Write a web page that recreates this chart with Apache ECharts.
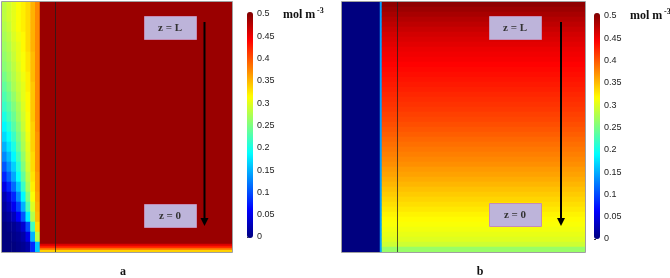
<!DOCTYPE html>
<html>
<head>
<meta charset="utf-8">
<script src="https://cdn.jsdelivr.net/npm/echarts@6/dist/echarts.min.js"></script>
<style>
  html, body { margin: 0; padding: 0; background: #fff; }
  #chart { width: 670px; height: 278px; }
</style>
</head>
<body>
<div id="chart"></div>
<script>
// concentration, mol m-3

// panel a, left strip: rows top -> bottom, columns left -> right
const fieldA = [
  [0.280, 0.290, 0.300, 0.310, 0.320, 0.330, 0.350, 0.370],
  [0.280, 0.290, 0.300, 0.310, 0.320, 0.330, 0.350, 0.370],
  [0.275, 0.285, 0.300, 0.310, 0.320, 0.330, 0.350, 0.370],
  [0.270, 0.280, 0.295, 0.305, 0.315, 0.330, 0.350, 0.370],
  [0.265, 0.275, 0.290, 0.300, 0.315, 0.330, 0.350, 0.370],
  [0.260, 0.270, 0.285, 0.300, 0.310, 0.325, 0.345, 0.370],
  [0.255, 0.265, 0.280, 0.295, 0.310, 0.325, 0.345, 0.370],
  [0.245, 0.260, 0.275, 0.290, 0.305, 0.320, 0.345, 0.370],
  [0.235, 0.250, 0.270, 0.285, 0.300, 0.320, 0.340, 0.370],
  [0.225, 0.240, 0.260, 0.280, 0.300, 0.315, 0.340, 0.370],
  [0.215, 0.230, 0.250, 0.270, 0.295, 0.315, 0.340, 0.370],
  [0.200, 0.220, 0.240, 0.265, 0.290, 0.310, 0.340, 0.370],
  [0.185, 0.205, 0.230, 0.255, 0.285, 0.310, 0.335, 0.370],
  [0.170, 0.190, 0.215, 0.245, 0.275, 0.305, 0.335, 0.365],
  [0.150, 0.175, 0.200, 0.235, 0.270, 0.300, 0.335, 0.365],
  [0.130, 0.155, 0.185, 0.220, 0.260, 0.295, 0.330, 0.365],
  [0.105, 0.135, 0.165, 0.205, 0.250, 0.290, 0.330, 0.365],
  [0.080, 0.110, 0.145, 0.190, 0.235, 0.280, 0.325, 0.360],
  [0.050, 0.080, 0.115, 0.160, 0.215, 0.270, 0.320, 0.360],
  [0.025, 0.045, 0.080, 0.130, 0.185, 0.250, 0.310, 0.355],
  [0.015, 0.030, 0.055, 0.095, 0.150, 0.225, 0.295, 0.350],
  [0.008, 0.015, 0.030, 0.060, 0.105, 0.180, 0.275, 0.345],
  [0.000, 0.005, 0.010, 0.020, 0.040, 0.100, 0.220, 0.330],
  [0.000, 0.000, 0.005, 0.010, 0.020, 0.050, 0.150, 0.280],
  [0.000, 0.000, 0.000, 0.005, 0.010, 0.020, 0.080, 0.160]
];
// panel a, right of the strip: bulk and the thin bottom layer (top -> bottom)
const bulkA = [0.487];
const stripA = [0.455, 0.425, 0.385, 0.335];

// panel b: left block, interface, and the profile down the right block (top -> bottom)
const wallB = [0.0];
const interfaceB = [0.14];
const fieldB = [
  0.492, 0.486, 0.480, 0.474, 0.469, 0.464, 0.459, 0.455, 0.451, 0.447,
  0.444, 0.441, 0.437, 0.434, 0.431, 0.428, 0.425, 0.422, 0.419, 0.416,
  0.413, 0.410, 0.406, 0.403, 0.399, 0.395, 0.391, 0.387, 0.383, 0.379,
  0.375, 0.371, 0.367, 0.362, 0.358, 0.353, 0.348, 0.343, 0.338, 0.333,
  0.328, 0.323, 0.318, 0.314, 0.310, 0.306, 0.302, 0.297, 0.288, 0.262
];

const scaleMin = 0;
const scaleMax = 0.5;
const scaleStep = 0.05;

const jet = ['#00007f', '#0000ff', '#007fff', '#00ffff', '#7fff7f',
             '#ffff00', '#ff7f00', '#ff0000', '#7f0000'];

// [left, top, width, height] of each block, and its value rows
const blocks = [
  { rect: [2, 2, 38, 250], rows: fieldA },
  { rect: [40, 2, 192, 242], rows: [bulkA] },
  { rect: [40, 244, 192, 8], rows: stripA.map((v) => [v]) },
  { rect: [342, 2, 38, 250], rows: [wallB] },
  { rect: [380, 2, 2, 250], rows: [interfaceB] },
  { rect: [382, 2, 203, 250], rows: fieldB.map((v) => [v]) }
];
const bars = [
  { rect: [247, 14, 6, 223], bar: [247, 12, 6, 226], series: [0, 1, 2] },
  { rect: [594, 16, 6, 223], bar: [594, 13, 6, 226], series: [3, 4, 5] }
];

const grids = [];
const xAxes = [];
const yAxes = [];
const series = [];

blocks.forEach((b, i) => {
  const [left, top, width, height] = b.rect;
  grids.push({ left, top, width, height, containLabel: false });
  const nCols = b.rows[0].length;
  const nRows = b.rows.length;
  xAxes.push({ gridIndex: i, type: 'category', show: false,
    data: Array.from({ length: nCols }, (_, k) => k) });
  yAxes.push({ gridIndex: i, type: 'category', show: false, inverse: true,
    data: Array.from({ length: nRows }, (_, k) => k) });
  const data = [];
  b.rows.forEach((row, r) => row.forEach((v, c) => data.push([c, r, v])));
  series.push({
    type: 'heatmap', xAxisIndex: i, yAxisIndex: i, data,
    itemStyle: { borderWidth: 0 },
    emphasis: { disabled: true },
    silent: true
  });
});

bars.forEach((b) => {
  const [left, top, width, height] = b.rect;
  const gi = grids.length;
  grids.push({ left, top, width, height });
  xAxes.push({ gridIndex: gi, type: 'value', show: false });
  yAxes.push({
    gridIndex: gi, type: 'value', position: 'right',
    min: scaleMin, max: scaleMax, interval: scaleStep,
    axisLine: { show: false },
    axisTick: { show: true, length: 2, lineStyle: { color: '#333' } },
    splitLine: { show: false },
    axisLabel: { margin: 4, fontSize: 9, color: '#222', fontFamily: 'Liberation Sans' }
  });
});

const visualMaps = bars.map((b) => ({
  type: 'continuous', min: scaleMin, max: scaleMax, dimension: 2,
  seriesIndex: b.series, calculable: false, hoverLink: false,
  orient: 'vertical', left: b.bar[0], top: b.bar[1],
  itemWidth: b.bar[2], itemHeight: b.bar[3], padding: 0,
  inRange: { color: jet }
}));

function labelBox(x, y, text) {
  return [
    { type: 'rect', shape: { x: x + 0.5, y: y + 0.5, width: 52, height: 23 },
      style: { fill: '#bdb4da', stroke: '#c48cb4', lineWidth: 1 }, z: 100 },
    { type: 'text', x: x + 26, y: y + 12,
      style: { text, fill: '#333', font: 'bold 11px "Liberation Serif"',
               align: 'center', verticalAlign: 'middle' }, z: 101 }
  ];
}
function arrow(x, y0, y1) {
  return [
    { type: 'line', shape: { x1: x, y1: y0, x2: x, y2: y1 - 7 },
      style: { stroke: '#000', lineWidth: 2 }, z: 100 },
    { type: 'polygon', shape: { points: [[x - 4, y1 - 8], [x + 4, y1 - 8], [x, y1]] },
      style: { fill: '#000' }, z: 100 }
  ];
}
function frame(x, y, w, h) {
  return { type: 'rect', shape: { x: x + 0.5, y: y + 0.5, width: w, height: h },
    style: { fill: 'none', stroke: '#a0a0a0', lineWidth: 1 }, z: 99 };
}
function divider(x) {
  return { type: 'line', shape: { x1: x + 0.5, y1: 2, x2: x + 0.5, y2: 252 },
    style: { stroke: 'rgba(30,30,30,0.75)', lineWidth: 1 }, z: 99 };
}
function unit(x, y) {
  return [
    { type: 'text', x, y, style: { text: 'mol m', fill: '#111',
      font: 'bold 12px "Liberation Serif"', verticalAlign: 'middle' }, z: 100 },
    { type: 'text', x: x + 34, y: y - 4, style: { text: '-3', fill: '#111',
      font: 'bold 8px "Liberation Serif"', verticalAlign: 'middle' }, z: 100 }
  ];
}
function panelTag(x, y, text) {
  return { type: 'text', x, y, style: { text, fill: '#111',
    font: 'bold 12px "Liberation Serif"', align: 'center', verticalAlign: 'middle' }, z: 100 };
}

const graphics = [
  frame(1, 1, 231, 251),
  frame(341, 1, 244, 251),
  divider(55),
  divider(397),
  ...labelBox(144, 16, 'z = L'),
  ...labelBox(144, 204, 'z = 0'),
  ...labelBox(489, 16, 'z = L'),
  ...labelBox(489, 203, 'z = 0'),
  ...arrow(204.5, 22, 226),
  ...arrow(561, 22, 226),
  ...unit(283, 15),
  ...unit(630, 16),
  panelTag(123, 272, 'a'),
  panelTag(480, 272, 'b')
];

const chart = echarts.init(document.getElementById('chart'), null, { renderer: 'canvas' });
chart.setOption({
  animation: false,
  backgroundColor: '#fff',
  grid: grids,
  xAxis: xAxes,
  yAxis: yAxes,
  visualMap: visualMaps,
  series,
  graphic: { elements: graphics }
});
</script>
</body>
</html>
